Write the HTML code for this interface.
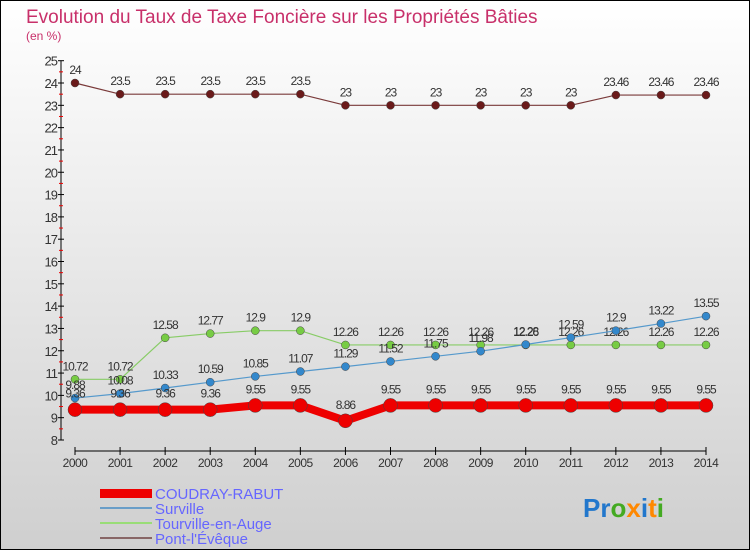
<!DOCTYPE html>
<html><head><meta charset="utf-8"><style>
body{margin:0}
#wrap{width:750px;height:550px;position:relative;background:linear-gradient(#ffffff,#cfcfcf);font-family:"Liberation Sans",sans-serif;box-sizing:border-box;border:1px solid #000}
svg text{font-family:"Liberation Sans",sans-serif}
</style></head><body>
<div id="wrap">
<svg id="c" width="750" height="550" style="position:absolute;left:-1px;top:-1px">
<text x="26" y="23" font-size="19" fill="#c8306a">Evolution du Taux de Taxe Foncière sur les Propriétés Bâties</text>
<text x="26" y="40" font-size="12" fill="#c8306a">(en %)</text>
<g id="axes"></g><g id="series"></g>
<g>
<rect x="100" y="489" width="52" height="9" fill="#ee0000"/>
<text x="155" y="499" font-size="15" fill="#6666ff">COUDRAY-RABUT</text>
<rect x="100" y="507" width="52" height="2" fill="#6a9ec8"/>
<text x="155" y="514" font-size="15" fill="#6666ff">Surville</text>
<rect x="100" y="522" width="52" height="2" fill="#99dd77"/>
<text x="155" y="529" font-size="15" fill="#6666ff">Tourville-en-Auge</text>
<rect x="100" y="537" width="52" height="2" fill="#886666"/>
<text x="155" y="544" font-size="15" fill="#6666ff">Pont-l'Évêque</text>
</g>
<text x="583" y="517" font-size="26" font-weight="bold"><tspan fill="#2277cc">Pr</tspan><tspan fill="#44aa22">o</tspan><tspan fill="#ff8800">x</tspan><tspan fill="#2277cc">i</tspan><tspan fill="#ff8800">t</tspan><tspan fill="#44aa22">i</tspan></text>
</svg>
</div>
<script>
const years=[2000,2001,2002,2003,2004,2005,2006,2007,2008,2009,2010,2011,2012,2013,2014];
const coudray=[9.36,9.36,9.36,9.36,9.55,9.55,8.86,9.55,9.55,9.55,9.55,9.55,9.55,9.55,9.55];
const surville=[9.88,10.08,10.33,10.59,10.85,11.07,11.29,11.52,11.75,11.98,12.28,12.59,12.9,13.22,13.55];
const tourville=[10.72,10.72,12.58,12.77,12.9,12.9,12.26,12.26,12.26,12.26,12.26,12.26,12.26,12.26,12.26];
const pont=[24,23.5,23.5,23.5,23.5,23.5,23,23,23,23,23,23,23.46,23.46,23.46];
const yTicks=[8,9,10,11,12,13,14,15,16,17,18,19,20,21,22,23,24,25];
const NS='http://www.w3.org/2000/svg';
const X=i=>75+i*(706-75)/(years.length-1);
const Y=v=>440-(v-8)*(440-60.7)/17;
function mk(t,a,p){const e=document.createElementNS(NS,t);for(const k in a)e.setAttribute(k,a[k]);p.appendChild(e);return e;}
const ax=document.getElementById('axes');
const yl=mk('line',{x1:61,y1:Y(25),x2:61,y2:Y(8),stroke:'#000'},ax);


yTicks.forEach(v=>{
 mk('line',{x1:58,y1:Y(v),x2:64,y2:Y(v),stroke:'#000'},ax);
 if(v<25) mk('line',{x1:59,y1:Y(v+0.5),x2:63,y2:Y(v+0.5),stroke:'#e00'},ax);
 const t=mk('text',{x:57,y:Y(v)+5,'font-size':13,fill:'#333','text-anchor':'end','letter-spacing':'-1'},ax);
 t.textContent=v;
 
 
});
const xl=mk('line',{x1:X(0),y1:451,x2:X(14),y2:451,stroke:'#000'},ax);


years.forEach((y,i)=>{
 mk('line',{x1:X(i),y1:447,x2:X(i),y2:455,stroke:'#000'},ax);
 const t=mk('text',{x:X(i),y:467,'font-size':12,fill:'#333','text-anchor':'middle','letter-spacing':'-0.5'},ax);
 t.textContent=y;
 
 
});
const sg=document.getElementById('series');
function series(name,data,color,w,r,fill,labOff){
 const g=mk('g',{},sg);
 
 
 mk('polyline',{points:data.map((v,i)=>X(i)+','+Y(v)).join(' '),fill:'none',stroke:color,'stroke-width':w},g);
 data.forEach((v,i)=>{
  const c=mk('circle',{cx:X(i),cy:Y(v),r:r,fill:fill,stroke:'#444','stroke-width':0.5},g);
  
  
  const t=mk('text',{x:X(i),y:Y(v)+labOff,'font-size':12,fill:'#333','text-anchor':'middle','letter-spacing':'-1'},g);
  t.textContent=v;
  
  
 });
}
series('pont',pont,'#7a3a3a',1.2,4,'#6a1a1a',-9);
series('tourville',tourville,'#88cc66',1.2,4,'#77cc44',-9);
series('surville',surville,'#5599cc',1.2,4,'#3388cc',-9);
series('coudray',coudray,'#ee0000',8,7,'#ee0000',-12);
</script>
</body></html>
